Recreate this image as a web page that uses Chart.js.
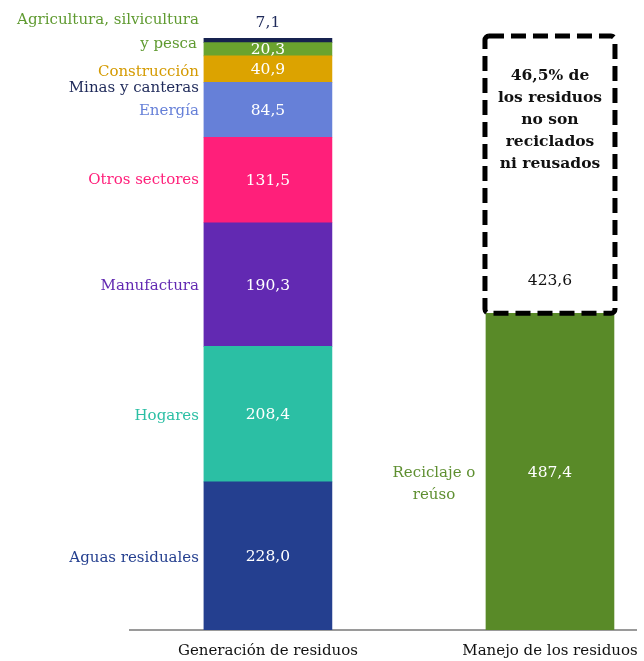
<!DOCTYPE html>
<html>
<head>
<meta charset="utf-8">
<script src="https://cdn.jsdelivr.net/npm/chart.js@4.4.1/dist/chart.umd.min.js"></script>
<style>
  body { margin: 0; background: #fff; }
  #wrap { width: 644px; height: 661px; position: relative; }
</style>
</head>
<body>
<div id="wrap"><canvas id="chart"></canvas></div>
<script>
// Categories on the x axis
const categories = ['Generación de residuos', 'Manejo de los residuos'];

// Waste generation by sector (bottom to top)
const sectorNames = [
    ['Aguas residuales'],
    ['Hogares'],
    ['Manufactura'],
    ['Otros sectores'],
    ['Energía'],
    ['Construcción'],
    ['Agricultura, silvicultura', 'y pesca'],
    ['Minas y canteras']
];
const sectorValues = [228.0, 208.4, 190.3, 131.5, 84.5, 40.9, 20.3, 7.1];

// Waste management
const managementNames = [['Reciclaje o', 'reúso'], ['']];
const managementValues = [487.4, 423.6];
const boxNote = ['46,5% de', 'los residuos', 'no son', 'reciclados', 'ni reusados'];

// styles
const sectorColors = ['#243f8f', '#2bbfa4', '#6229b2', '#ff1f7a', '#6680d8', '#dca300', '#6aa32e', '#17224f'];
const sectorTextColors = ['#243f8f', '#2bbfa4', '#6229b2', '#ff1f7a', '#6680d8', '#d49a00', '#5f9a30', '#1f2a5a'];
// label nudges for the thin top segments
const nameNudge = [2, 2, 2, 0, 1, 3, -29, 48];
const valueNudge = [1, 1, 1, 1, 1, 1, 1, -17];

const FONT = '"DejaVu Serif", serif';

function fmt(v) {
    return v.toFixed(1).replace('.', ',');
}

const datasets = [];
sectorValues.forEach((v, i) => {
    datasets.push({
        label: sectorNames[i].join(' '),
        data: [{ x: 0, y: v }],
        backgroundColor: sectorColors[i],
        names: sectorNames[i],
        textColor: sectorTextColors[i],
        valueColor: i === 7 ? '#1f2a5a' : '#ffffff',
        nameNudge: nameNudge[i],
        valueNudge: valueNudge[i],
        nameAlign: 'right'
    });
});
datasets.push({
    label: 'Reciclaje o reúso',
    data: [{ x: 1, y: managementValues[0] }],
    backgroundColor: '#598a28',
    names: managementNames[0],
    textColor: '#5e8f30',
    valueColor: '#ffffff',
    nameNudge: 12,
    valueNudge: 1,
    nameAlign: 'center'
});
datasets.push({
    label: 'No reciclados',
    data: [{ x: 1, y: managementValues[1] }],
    backgroundColor: '#ffffff',
    names: managementNames[1],
    valueColor: '#111111',
    dashedBox: true,
    valueNudge: 105
});

const labelPlugin = {
    id: 'segLabels',
    afterDatasetsDraw(chart) {
        const ctx = chart.ctx;
        ctx.save();
        chart.data.datasets.forEach((ds, i) => {
            const el = chart.getDatasetMeta(i).data[0];
            if (!el) return;
            const top = Math.min(el.y, el.base);
            const bottom = Math.max(el.y, el.base);
            const left = el.x - el.width / 2;
            const mid = (top + bottom) / 2;

            if (ds.dashedBox) {
                ctx.strokeStyle = '#000';
                ctx.lineWidth = 5;
                ctx.setLineDash([15, 7]);
                ctx.beginPath();
                ctx.roundRect(left - 1, top - 2, el.width + 2, bottom - top + 2, 4);
                ctx.stroke();
                ctx.setLineDash([]);
                ctx.fillStyle = '#111';
                ctx.font = 'bold 15.5px ' + FONT;
                ctx.textAlign = 'center';
                ctx.textBaseline = 'middle';
                boxNote.forEach((line, k) => {
                    ctx.fillText(line, el.x, top + 38 + k * 22);
                });
            }

            // value
            ctx.font = '15.5px ' + FONT;
            ctx.fillStyle = ds.valueColor;
            ctx.textAlign = 'center';
            ctx.textBaseline = 'middle';
            ctx.fillText(fmt(ds.data[0].y), el.x, mid + ds.valueNudge);

            // name
            if (ds.names && ds.names[0]) {
                ctx.font = '15px ' + FONT;
                ctx.fillStyle = ds.textColor;
                ctx.textAlign = ds.nameAlign;
                const nx = ds.nameAlign === 'right' ? left - 5 : left - 52;
                const n = ds.names.length;
                ds.names.forEach((line, k) => {
                    const y = ds.nameAlign === 'right'
                        ? mid + ds.nameNudge + k * 24
                        : mid + ds.nameNudge + (k - (n - 1) / 2) * 22;
                    ctx.fillText(line, nx - (ds.nameAlign === 'right' && k > 0 ? 2 : 0), y);
                });
            }
        });
        ctx.restore();
    }
};

new Chart(document.getElementById('chart'), {
    type: 'bar',
    data: { datasets: datasets },
    options: {
        responsive: true,
        maintainAspectRatio: false,
        animation: false,
        layout: { padding: { top: 38, left: 130, right: 8, bottom: 2 } },
        plugins: { legend: { display: false }, tooltip: { enabled: false } },
        datasets: { bar: { barThickness: 128 } },
        scales: {
            x: {
                type: 'linear',
                stacked: true,
                offset: false,
                min: -0.489,
                max: 1.305,
                afterBuildTicks: scale => {
                    scale.ticks = [{ value: 0 }, { value: 1 }];
                },
                afterFit: scale => {
                    scale.paddingLeft = 0;
                    scale.paddingRight = 0;
                    scale.height = 29;
                },
                grid: { display: false, drawTicks: false },
                border: { color: '#9a9a9a', width: 2 },
                ticks: {
                    autoSkip: false,
                    maxRotation: 0,
                    padding: 12,
                    color: '#111',
                    font: { family: FONT, size: 15 },
                    callback: v => categories[v]
                }
            },
            y: {
                stacked: true,
                display: false,
                min: 0,
                max: 911
            }
        }
    },
    plugins: [labelPlugin]
});
</script>
</body>
</html>
